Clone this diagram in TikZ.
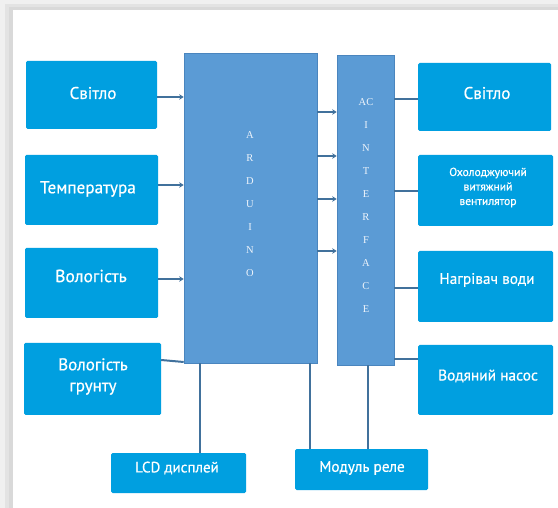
\documentclass[tikz,border=0pt]{standalone}
\usepackage{fontspec}
\usetikzlibrary{arrows.meta}
\newfontfamily\boxfont[FakeBold=0.6]{PT Sans}
\newfontfamily\letterfont{Liberation Serif}
\definecolor{boxblue}{HTML}{009FE0}
\definecolor{coreblue}{HTML}{5B9BD5}
\definecolor{coreedge}{HTML}{4A85BE}
\definecolor{linkblue}{HTML}{41719C}
\definecolor{lettercol}{HTML}{EEF4FB}
\tikzset{
  devbox/.style={fill=boxblue, draw=none, rounded corners=1.5pt, inner sep=0pt},
  corebox/.style={fill=coreblue, draw=coreedge, line width=0.6pt, inner sep=0pt},
  boxtext/.style={text=white, font=\boxfont, align=center, inner sep=0pt},
  letters/.style={text=lettercol, font=\letterfont\fontsize{10.5}{23}\selectfont, align=center, inner sep=0pt},
  conn/.style={draw=linkblue, line width=2pt},
  arr/.style={conn, -{Stealth[length=4.5pt,width=5.5pt]}}
}
\begin{document}
\begin{tikzpicture}[x=1pt,y=-1pt]
\useasboundingbox (0,0) rectangle (558,508);
% page with shadow
\fill[gray!12] (0,0) rectangle (558,508);
\fill[gray!22] (5,4) rectangle (558,508);
\fill[gray!30] (9,7) rectangle (558,508);
\fill[white] (13,10) rectangle (558,508);

% core blocks
\node[corebox, minimum width=133pt, minimum height=310pt] (ard) at (250.5,208) {};
\node[corebox, minimum width=57pt, minimum height=310pt] (ac) at (365.5,210) {};
\node[letters] (ardtxt) at (250,204.5) {A\\R\\D\\U\\I\\N\\O};
\node[letters] (actxt) at (366,205.5) {AC\\I\\N\\T\\E\\R\\F\\A\\C\\E};

% left boxes
\node[devbox, minimum width=131pt, minimum height=68pt] (l1) at (91.5,95) {};
\node[boxtext, font=\boxfont\fontsize{17}{20}\selectfont] (l1t) at (93,93) {Світло};
\node[devbox, minimum width=133pt, minimum height=70pt] (l2) at (91.5,190) {};
\node[boxtext, font=\boxfont\fontsize{17.2}{20}\selectfont] (l2t) at (88,189) {Температура};
\node[devbox, minimum width=133pt, minimum height=70pt] (l3) at (91.5,283) {};
\node[boxtext, font=\boxfont\fontsize{17.5}{20}\selectfont] (l3t) at (91,276) {Вологість};
\node[devbox, minimum width=137pt, minimum height=72pt] (l4) at (92.5,379) {};
\node[boxtext, font=\boxfont\fontsize{17}{21}\selectfont] (l4t) at (93,376.5) {Вологість\\грунту};

% right boxes
\node[devbox, minimum width=133pt, minimum height=68pt] (r1) at (484.5,97) {};
\node[boxtext, font=\boxfont\fontsize{17}{20}\selectfont] (r1t) at (487,93) {Світло};
\node[devbox, minimum width=135pt, minimum height=71pt] (r2) at (485.5,190.5) {};
\node[boxtext, font=\boxfont\fontsize{11.6}{14.5}\selectfont] (r2t) at (488,187.5) {Охолоджуючий\\витяжний\\вентилятор};
\node[devbox, minimum width=135pt, minimum height=71pt] (r3) at (485.5,286.5) {};
\node[boxtext, font=\boxfont\fontsize{15.3}{18}\selectfont] (r3t) at (487,280) {Нагрівач води};
\node[devbox, minimum width=135pt, minimum height=70pt] (r4) at (485.5,380) {};
\node[boxtext, font=\boxfont\fontsize{15.4}{18}\selectfont] (r4t) at (488,376) {Водяний насос};

% bottom boxes
\node[devbox, minimum width=135pt, minimum height=40pt] (lcd) at (178.5,473) {};
\node[boxtext, font=\boxfont\fontsize{15}{17}\selectfont] (lcdt) at (177,468) {LCD дисплей};
\node[devbox, minimum width=133pt, minimum height=41pt] (mod) at (361.5,469.5) {};
\node[boxtext, font=\boxfont\fontsize{15.3}{17}\selectfont] (modt) at (362,468) {Модуль реле};

% sensors -> Arduino
\draw[arr] ([yshift=-2pt]l1.east) -- ([yshift=-2pt]l1.east -| ard.west);
\draw[arr] ([yshift=5pt]l2.east) -- ([yshift=5pt]l2.east -| ard.west);
\draw[arr] ([yshift=4pt]l3.east) -- ([yshift=4pt]l3.east -| ard.west);
\draw[conn] ([yshift=19pt]l4.east) -- ([yshift=17pt]l4.east -| ard.west);

% Arduino -> AC interface
\draw[arr] ([yshift=96pt]ard.east) -- ([yshift=96pt]ard.east -| ac.west);
\draw[arr] ([yshift=52pt]ard.east) -- ([yshift=52pt]ard.east -| ac.west);
\draw[arr] ([yshift=9pt]ard.east) -- ([yshift=9pt]ard.east -| ac.west);
\draw[arr] ([yshift=-43pt]ard.east) -- ([yshift=-43pt]ard.east -| ac.west);

% AC interface -> actuators
\draw[conn] ([yshift=-2pt]r1.west -| ac.east) -- ([yshift=-2pt]r1.west);
\draw[conn] ([yshift=-0.5pt]r2.west -| ac.east) -- ([yshift=-0.5pt]r2.west);
\draw[conn] ([yshift=-1.5pt]r3.west -| ac.east) -- ([yshift=-1.5pt]r3.west);
\draw[conn] ([yshift=21pt]r4.west -| ac.east) -- ([yshift=21pt]r4.west);

% bottom connections
\draw[conn] ([xshift=-50.5pt]ard.south) -- ([xshift=-50.5pt]ard.south |- lcd.north);
\draw[conn] ([xshift=59.5pt]ard.south) -- ([xshift=59.5pt]ard.south |- mod.north);
\draw[conn] ([xshift=2.5pt]ac.south) -- ([xshift=2.5pt]ac.south |- mod.north);
\end{tikzpicture}
\end{document}
